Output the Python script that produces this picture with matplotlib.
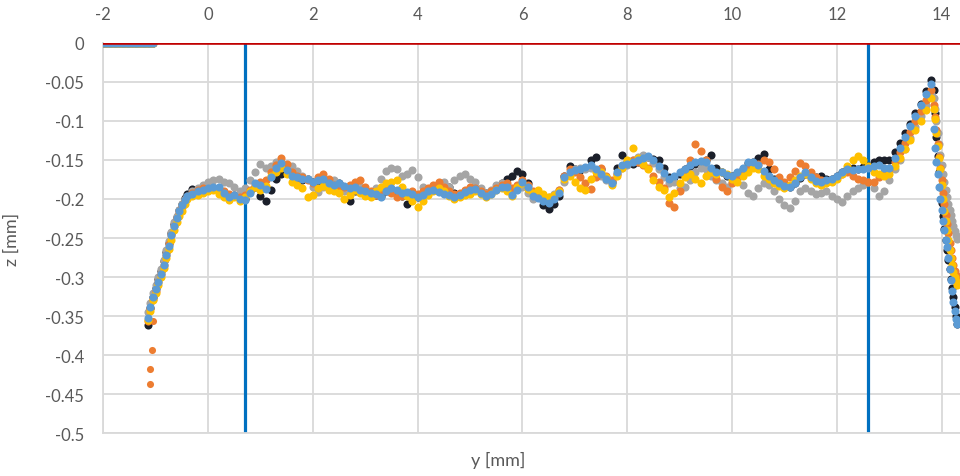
import numpy as np
import matplotlib
matplotlib.use("Agg")
import matplotlib.pyplot as plt

plt.rcParams['font.family'] = ['Lato', 'DejaVu Sans']

# sampling positions along y [mm]
x_flat = np.round(np.linspace(-2.0, -1.05, 20), 3)    # flat part at z = 0
x_rise = np.round(np.linspace(-1.15, -0.40, 16), 3)   # left flank
x_mid = np.round(np.linspace(-0.3, 13.8, 142), 3)     # main profile
x_fall = np.round(np.linspace(13.85, 14.3, 19), 3)    # right flank

z_flat = np.zeros(len(x_flat))

# measured z [mm] for each series
black_rise = [-0.362, -0.340, -0.326, -0.314, -0.302, -0.292, -0.280, -0.268,
              -0.256, -0.244, -0.232, -0.223, -0.214, -0.206, -0.199, -0.194]
black_mid = [-0.187, -0.188, -0.190, -0.188, -0.186, -0.188, -0.194, -0.197, -0.195, -0.198,
             -0.200, -0.190, -0.185, -0.196, -0.203, -0.188, -0.175, -0.168, -0.164, -0.168,
             -0.172, -0.176, -0.175, -0.178, -0.178, -0.176, -0.180, -0.184, -0.180, -0.186,
             -0.202, -0.190, -0.188, -0.192, -0.193, -0.195, -0.196, -0.190, -0.188, -0.192,
             -0.196, -0.206, -0.196, -0.198, -0.194, -0.190, -0.188, -0.190, -0.186, -0.185,
             -0.192, -0.195, -0.190, -0.188, -0.186, -0.190, -0.192, -0.190, -0.186, -0.180,
             -0.174, -0.170, -0.164, -0.168, -0.180, -0.192, -0.198, -0.208, -0.213, -0.206,
             -0.196, -0.170, -0.158, -0.162, -0.163, -0.160, -0.150, -0.146, -0.162, -0.172,
             -0.178, -0.160, -0.143, -0.152, -0.155, -0.152, -0.148, -0.146, -0.149, -0.150,
             -0.160, -0.172, -0.172, -0.168, -0.162, -0.158, -0.155, -0.153, -0.150, -0.143,
             -0.160, -0.166, -0.170, -0.171, -0.167, -0.161, -0.154, -0.152, -0.148, -0.142,
             -0.162, -0.174, -0.180, -0.183, -0.184, -0.180, -0.173, -0.168, -0.172, -0.172,
             -0.170, -0.174, -0.174, -0.171, -0.166, -0.162, -0.160, -0.161, -0.159, -0.158,
             -0.152, -0.150, -0.150, -0.150, -0.140, -0.128, -0.116, -0.104, -0.090, -0.078,
             -0.062, -0.048]
black_fall = [-0.060, -0.090, -0.120, -0.145, -0.165, -0.185, -0.205, -0.222, -0.238, -0.252,
              -0.265, -0.278, -0.290, -0.302, -0.314, -0.326, -0.338, -0.350, -0.360]

gray_rise = [-0.345, -0.333, -0.321, -0.310, -0.300, -0.290, -0.278, -0.266,
             -0.254, -0.242, -0.230, -0.222, -0.214, -0.206, -0.200, -0.196]
gray_mid = [-0.190, -0.186, -0.182, -0.178, -0.176, -0.174, -0.178, -0.180, -0.184, -0.190,
            -0.186, -0.176, -0.166, -0.155, -0.160, -0.158, -0.153, -0.156, -0.160, -0.158,
            -0.164, -0.170, -0.175, -0.184, -0.191, -0.185, -0.180, -0.176, -0.184, -0.190,
            -0.192, -0.188, -0.184, -0.190, -0.196, -0.186, -0.175, -0.164, -0.160, -0.162,
            -0.170, -0.168, -0.163, -0.172, -0.184, -0.192, -0.186, -0.180, -0.178, -0.184,
            -0.176, -0.170, -0.168, -0.174, -0.178, -0.186, -0.192, -0.188, -0.182, -0.180,
            -0.186, -0.190, -0.183, -0.184, -0.192, -0.200, -0.198, -0.195, -0.198, -0.194,
            -0.188, -0.178, -0.168, -0.162, -0.160, -0.162, -0.160, -0.163, -0.170, -0.176,
            -0.178, -0.168, -0.160, -0.156, -0.150, -0.146, -0.144, -0.146, -0.154, -0.162,
            -0.172, -0.180, -0.178, -0.186, -0.184, -0.176, -0.166, -0.160, -0.162, -0.170,
            -0.176, -0.180, -0.184, -0.178, -0.174, -0.182, -0.192, -0.196, -0.186, -0.180,
            -0.182, -0.190, -0.200, -0.208, -0.212, -0.202, -0.190, -0.186, -0.190, -0.194,
            -0.192, -0.190, -0.196, -0.200, -0.204, -0.196, -0.190, -0.186, -0.182, -0.178,
            -0.186, -0.196, -0.190, -0.176, -0.162, -0.150, -0.136, -0.122, -0.108, -0.094,
            -0.080, -0.066]
gray_fall = [-0.070, -0.085, -0.100, -0.115, -0.130, -0.144, -0.156, -0.168, -0.178, -0.188,
             -0.198, -0.206, -0.214, -0.221, -0.228, -0.235, -0.241, -0.246, -0.251]

orange_rise = [-0.356, -0.340, -0.328, -0.318, -0.306, -0.296, -0.284, -0.272,
               -0.258, -0.246, -0.234, -0.225, -0.217, -0.210, -0.202, -0.197]
orange_mid = [-0.192, -0.188, -0.186, -0.189, -0.186, -0.188, -0.190, -0.194, -0.196, -0.198,
              -0.195, -0.188, -0.182, -0.178, -0.176, -0.166, -0.156, -0.148, -0.155, -0.165,
              -0.170, -0.172, -0.176, -0.180, -0.172, -0.168, -0.175, -0.182, -0.185, -0.184,
              -0.182, -0.178, -0.176, -0.185, -0.190, -0.195, -0.190, -0.186, -0.192, -0.198,
              -0.196, -0.192, -0.190, -0.194, -0.190, -0.186, -0.182, -0.178, -0.184, -0.190,
              -0.194, -0.192, -0.188, -0.184, -0.186, -0.190, -0.194, -0.190, -0.186, -0.182,
              -0.180, -0.186, -0.182, -0.176, -0.182, -0.190, -0.195, -0.198, -0.202, -0.198,
              -0.188, -0.170, -0.162, -0.166, -0.172, -0.180, -0.187, -0.172, -0.160, -0.170,
              -0.176, -0.168, -0.158, -0.152, -0.150, -0.152, -0.156, -0.160, -0.170, -0.178,
              -0.186, -0.205, -0.210, -0.190, -0.170, -0.150, -0.130, -0.138, -0.150, -0.165,
              -0.175, -0.185, -0.190, -0.180, -0.172, -0.168, -0.162, -0.158, -0.155, -0.150,
              -0.152, -0.162, -0.172, -0.178, -0.172, -0.164, -0.154, -0.158, -0.166, -0.172,
              -0.176, -0.178, -0.176, -0.172, -0.168, -0.166, -0.170, -0.174, -0.176, -0.178,
              -0.178, -0.172, -0.166, -0.162, -0.152, -0.140, -0.128, -0.114, -0.100, -0.087,
              -0.073, -0.060]
orange_fall = [-0.080, -0.095, -0.112, -0.130, -0.146, -0.160, -0.176, -0.192, -0.206, -0.220,
               -0.232, -0.244, -0.256, -0.266, -0.276, -0.285, -0.292, -0.298, -0.303]
orange_out_x = [-1.05, -1.08, -1.10, -1.11]
orange_out_z = [-0.356, -0.393, -0.418, -0.437]

yellow_rise = [-0.355, -0.343, -0.330, -0.320, -0.310, -0.300, -0.288, -0.276,
               -0.264, -0.252, -0.240, -0.230, -0.222, -0.215, -0.206, -0.200]
yellow_mid = [-0.196, -0.195, -0.192, -0.190, -0.188, -0.193, -0.198, -0.201, -0.197, -0.203,
              -0.197, -0.190, -0.185, -0.188, -0.183, -0.170, -0.165, -0.160, -0.168, -0.178,
              -0.182, -0.186, -0.198, -0.195, -0.186, -0.183, -0.188, -0.190, -0.192, -0.200,
              -0.195, -0.188, -0.192, -0.196, -0.197, -0.190, -0.185, -0.180, -0.178, -0.176,
              -0.185, -0.196, -0.203, -0.210, -0.202, -0.195, -0.190, -0.186, -0.190, -0.196,
              -0.200, -0.198, -0.195, -0.193, -0.190, -0.193, -0.198, -0.194, -0.188, -0.186,
              -0.190, -0.196, -0.185, -0.180, -0.187, -0.192, -0.188, -0.193, -0.198, -0.195,
              -0.190, -0.175, -0.170, -0.178, -0.186, -0.188, -0.175, -0.165, -0.166, -0.172,
              -0.182, -0.170, -0.160, -0.150, -0.135, -0.148, -0.155, -0.162, -0.176, -0.184,
              -0.188, -0.198, -0.192, -0.180, -0.172, -0.168, -0.175, -0.180, -0.170, -0.165,
              -0.168, -0.166, -0.168, -0.175, -0.178, -0.170, -0.165, -0.160, -0.162, -0.170,
              -0.175, -0.180, -0.183, -0.186, -0.182, -0.176, -0.170, -0.168, -0.175, -0.180,
              -0.182, -0.180, -0.178, -0.175, -0.168, -0.158, -0.150, -0.145, -0.150, -0.158,
              -0.165, -0.168, -0.170, -0.168, -0.158, -0.148, -0.136, -0.125, -0.112, -0.100,
              -0.086, -0.070]
yellow_fall = [-0.085, -0.097, -0.115, -0.132, -0.148, -0.162, -0.182, -0.200, -0.215, -0.228,
               -0.240, -0.252, -0.265, -0.275, -0.285, -0.293, -0.300, -0.305, -0.310]

blue_rise = [-0.352, -0.338, -0.326, -0.316, -0.306, -0.296, -0.284, -0.272,
             -0.260, -0.246, -0.234, -0.225, -0.216, -0.208, -0.201, -0.196]
blue_mid = [-0.193, -0.190, -0.189, -0.186, -0.184, -0.185, -0.192, -0.198, -0.195, -0.200,
            -0.201, -0.192, -0.180, -0.182, -0.187, -0.172, -0.160, -0.154, -0.163, -0.170,
            -0.172, -0.175, -0.174, -0.178, -0.176, -0.174, -0.180, -0.182, -0.179, -0.183,
            -0.186, -0.184, -0.188, -0.190, -0.192, -0.194, -0.197, -0.190, -0.186, -0.189,
            -0.192, -0.191, -0.194, -0.197, -0.195, -0.190, -0.188, -0.191, -0.193, -0.195,
            -0.197, -0.195, -0.191, -0.188, -0.187, -0.192, -0.196, -0.193, -0.188, -0.184,
            -0.185, -0.195, -0.188, -0.178, -0.185, -0.196, -0.199, -0.203, -0.205, -0.200,
            -0.192, -0.172, -0.165, -0.163, -0.161, -0.159, -0.157, -0.162, -0.168, -0.174,
            -0.180, -0.165, -0.157, -0.155, -0.153, -0.150, -0.147, -0.145, -0.150, -0.158,
            -0.167, -0.174, -0.171, -0.166, -0.161, -0.157, -0.153, -0.151, -0.152, -0.160,
            -0.165, -0.166, -0.169, -0.170, -0.166, -0.160, -0.153, -0.152, -0.156, -0.164,
            -0.170, -0.176, -0.180, -0.183, -0.184, -0.180, -0.172, -0.166, -0.172, -0.177,
            -0.178, -0.176, -0.174, -0.170, -0.165, -0.162, -0.163, -0.162, -0.161, -0.160,
            -0.158, -0.157, -0.160, -0.160, -0.148, -0.134, -0.120, -0.106, -0.094, -0.080,
            -0.066, -0.052]
blue_fall = [-0.110, -0.135, -0.152, -0.168, -0.184, -0.200, -0.214, -0.228, -0.240, -0.252,
             -0.262, -0.276, -0.290, -0.304, -0.318, -0.332, -0.344, -0.354, -0.360]

series = [
    ("#1B1F2A", black_rise, black_mid, black_fall),
    ("#A5A5A5", gray_rise, gray_mid, gray_fall),
    ("#ED7D31", orange_rise, orange_mid, orange_fall),
    ("#FFC000", yellow_rise, yellow_mid, yellow_fall),
    ("#5B9BD5", blue_rise, blue_mid, blue_fall),
]

y_ticks = [0, -0.05, -0.1, -0.15, -0.2, -0.25, -0.3, -0.35, -0.4, -0.45, -0.5]
y_tick_labels = ["0", "-0.05", "-0.1", "-0.15", "-0.2", "-0.25", "-0.3", "-0.35",
                 "-0.4", "-0.45", "-0.5"]
x_ticks = [-2, 0, 2, 4, 6, 8, 10, 12, 14]
x_tick_labels = ["-2", "0", "2", "4", "6", "8", "10", "12", "14"]
limit_lines = [0.7, 12.6]

fig = plt.figure(figsize=(9.6, 4.77), dpi=100)
ax = fig.add_axes([0.1076, 0.0901, 0.8924, 0.8177])

x_all = np.concatenate([x_flat, x_rise, x_mid, x_fall])
for i, (color, rise, mid, fall) in enumerate(series):
    z_all = np.concatenate([z_flat, rise, mid, fall])
    ax.scatter(x_all, z_all, s=34, color=color, linewidths=0, zorder=3 + i * 0.1)
    if color == "#ED7D31":
        ax.scatter(orange_out_x, orange_out_z, s=26, color=color, linewidths=0, zorder=3.2)

for xv in limit_lines:
    ax.axvline(xv, color="#0070C0", lw=2.3, zorder=2.5)
ax.axhline(0, color="#C00000", lw=2.6, zorder=4)

ax.set_xlim(-2, 14.35)
ax.set_ylim(-0.5, 0)
ax.set_xticks(x_ticks)
ax.set_xticklabels(x_tick_labels)
ax.set_yticks(y_ticks)
ax.set_yticklabels(y_tick_labels)
ax.xaxis.tick_top()
ax.tick_params(axis='x', length=0, pad=15, labelsize=12, labelcolor='#595959')
ax.tick_params(axis='y', length=0, pad=14, labelsize=12, labelcolor='#595959')

ax.grid(True, color='#D9D9D9', lw=1.3, zorder=0)
ax.set_axisbelow(True)
for side in ['top', 'right']:
    ax.spines[side].set_visible(False)
for side in ['left', 'bottom']:
    ax.spines[side].set_color('#D9D9D9')
    ax.spines[side].set_linewidth(1.3)

ax.set_xlabel("y [mm]", fontsize=13, color='#595959')
ax.xaxis.set_label_position('bottom')
ax.xaxis.set_label_coords(0.461, -0.045)
ax.set_ylabel("z [mm]", fontsize=13, color='#595959')
ax.yaxis.set_label_coords(-0.097, 0.5)

fig.savefig("out.png", dpi=100)
